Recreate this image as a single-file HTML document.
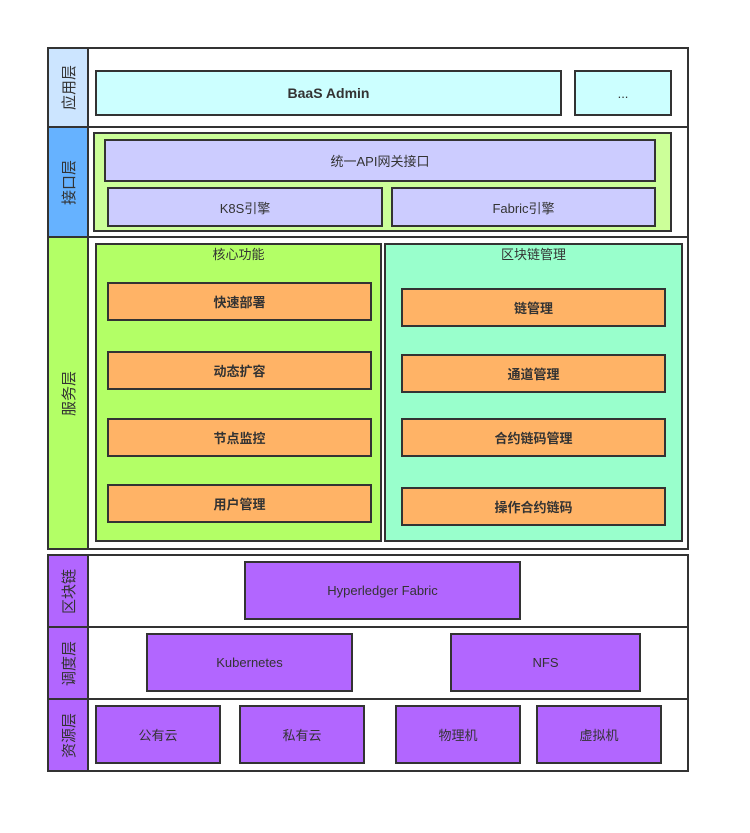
<!DOCTYPE html>
<html><head><meta charset="utf-8"><style>
body{margin:0;width:750px;height:833px;background:#fff;position:relative;font-family:"Liberation Sans","Noto Sans CJK SC",sans-serif;color:#333;font-size:13px}
.b{position:absolute;box-sizing:border-box;border:2px solid #333;display:flex;align-items:center;justify-content:center}
.v span{transform:rotate(-90deg);white-space:nowrap;font-size:15px}
.o{background:#ffb366;font-weight:bold}
.p{background:#b266ff}
.t{position:absolute;font-size:13px}
</style></head><body>
<div class="b" style="left:47px;top:47px;width:642px;height:503px;background:#fff"></div>
<div class="b v" style="left:47px;top:47px;width:42px;height:81px;background:#cce5ff"><span>应用层</span></div>
<div class="b v" style="left:47px;top:126px;width:42px;height:112px;background:#66b2ff"><span>接口层</span></div>
<div class="b v" style="left:47px;top:236px;width:42px;height:314px;background:#b3ff66"><span>服务层</span></div>
<div class="b" style="left:87px;top:126px;width:602px;height:2px;border-width:1px"></div>
<div class="b" style="left:87px;top:236px;width:602px;height:2px;border-width:1px"></div>
<div class="b" style="left:95px;top:70px;width:467px;height:46px;background:#ccffff;font-weight:bold;font-size:14px">BaaS Admin</div>
<div class="b" style="left:574px;top:70px;width:98px;height:46px;background:#ccffff">...</div>
<div class="b" style="left:93px;top:132px;width:579px;height:100px;background:#ccff99"></div>
<div class="b" style="left:104px;top:139px;width:552px;height:43px;background:#ccccff">统一API网关接口</div>
<div class="b" style="left:107px;top:187px;width:276px;height:40px;background:#ccccff">K8S引擎</div>
<div class="b" style="left:391px;top:187px;width:265px;height:40px;background:#ccccff">Fabric引擎</div>
<div class="b" style="left:95px;top:243px;width:287px;height:299px;background:#b3ff66"></div>
<div class="t" style="left:95px;width:287px;top:244px;text-align:center">核心功能</div>
<div class="b" style="left:384px;top:243px;width:299px;height:299px;background:#99ffcc"></div>
<div class="t" style="left:384px;width:299px;top:244px;text-align:center">区块链管理</div>
<div class="b o" style="left:107px;top:282px;width:265px;height:39px">快速部署</div>
<div class="b o" style="left:107px;top:351px;width:265px;height:39px">动态扩容</div>
<div class="b o" style="left:107px;top:418px;width:265px;height:39px">节点监控</div>
<div class="b o" style="left:107px;top:484px;width:265px;height:39px">用户管理</div>
<div class="b o" style="left:401px;top:288px;width:265px;height:39px">链管理</div>
<div class="b o" style="left:401px;top:354px;width:265px;height:39px">通道管理</div>
<div class="b o" style="left:401px;top:418px;width:265px;height:39px">合约链码管理</div>
<div class="b o" style="left:401px;top:487px;width:265px;height:39px">操作合约链码</div>

<div class="b" style="left:47px;top:554px;width:642px;height:218px;background:#fff"></div>
<div class="b v p" style="left:47px;top:554px;width:42px;height:74px"><span>区块链</span></div>
<div class="b v p" style="left:47px;top:626px;width:42px;height:74px"><span>调度层</span></div>
<div class="b v p" style="left:47px;top:698px;width:42px;height:74px"><span>资源层</span></div>
<div class="b" style="left:87px;top:626px;width:602px;height:2px;border-width:1px"></div>
<div class="b" style="left:87px;top:698px;width:602px;height:2px;border-width:1px"></div>
<div class="b p" style="left:244px;top:561px;width:277px;height:59px">Hyperledger Fabric</div>
<div class="b p" style="left:146px;top:633px;width:207px;height:59px">Kubernetes</div>
<div class="b p" style="left:450px;top:633px;width:191px;height:59px">NFS</div>
<div class="b p" style="left:95px;top:705px;width:126px;height:59px">公有云</div>
<div class="b p" style="left:239px;top:705px;width:126px;height:59px">私有云</div>
<div class="b p" style="left:395px;top:705px;width:126px;height:59px">物理机</div>
<div class="b p" style="left:536px;top:705px;width:126px;height:59px">虚拟机</div>
</body></html>
